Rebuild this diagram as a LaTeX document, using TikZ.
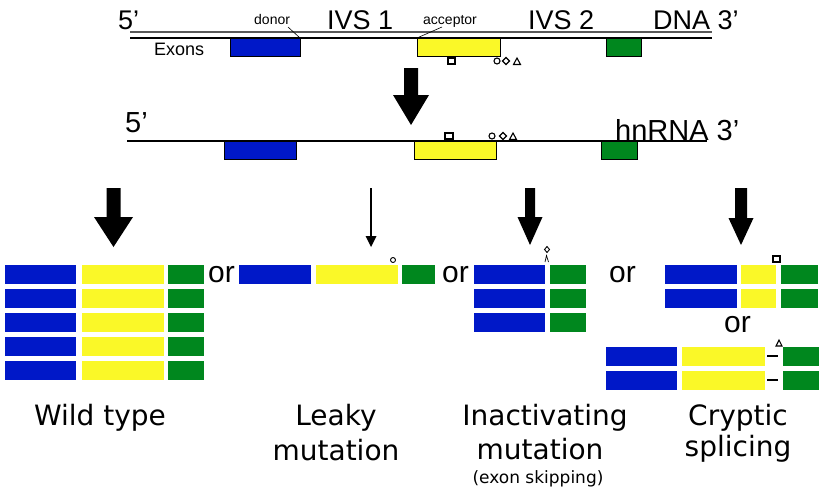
\documentclass[tikz,border=0pt]{standalone}
\usepackage{fontspec}
\setmainfont{Liberation Sans}
\newfontfamily\dvs{DejaVu Sans}
\definecolor{exblue}{RGB}{0,24,200}
\definecolor{exyellow}{RGB}{250,248,40}
\definecolor{exgreen}{RGB}{0,135,30}
% block arrow: xcenter, shaft top, head top, tip, shaft half width, head half width
\newcommand\blkarrow[6]{%
  \fill[black] ({#1-#5},#2) -- ({#1+#5},#2) -- ({#1+#5},#3) -- ({#1+#6},#3)
    -- (#1,#4) -- ({#1-#6},#3) -- ({#1-#5},#3) -- cycle;}
% exon bar: colour, x1, x2, top y (height 19)
\newcommand\exbar[4]{\fill[#1] (#2,#4) rectangle (#3,{#4+19});}
\begin{document}
\begin{tikzpicture}[x=1pt,y=-1pt,
  lbl/.style={inner sep=0pt, anchor=base west},
  lblc/.style={inner sep=0pt, anchor=base},
  dnafont/.style={font=\fontsize{27}{30}\selectfont},
  rnafont/.style={font=\fontsize{29}{32}\selectfont},
  smallfont/.style={font=\fontsize{14}{16}\selectfont},
  exonsfont/.style={font=\fontsize{18}{20}\selectfont},
  orfont/.style={font=\fontsize{30}{32}\selectfont},
  capfont/.style={font=\dvs\fontsize{28}{32}\selectfont},
  subfont/.style={font=\dvs\fontsize{17}{20}\selectfont},
  exonbox/.style={draw=black, line width=0.8pt},
  sym/.style={draw=black, line width=1.1pt}]
\useasboundingbox (0,0) rectangle (832,488);

% ---------------- DNA row ----------------
\coordinate (dnaTopL) at (130,32);
\coordinate (dnaTopR) at (712,32);
\coordinate (dnaBotL) at (130,38);
\coordinate (dnaBotR) at (712,38);
\draw[line width=1.3pt, black!65] (dnaTopL) -- (dnaTopR);
\draw[line width=1.5pt] (dnaBotL) -- (dnaBotR);
\node[lbl, dnafont] (p5a) at (118,29) {5’};
\node[lbl, smallfont] (donor) at (254,24) {donor};
\node[lbl, dnafont] (ivs1) at (327,29) {IVS 1};
\node[lbl, smallfont] (acceptor) at (423,24) {acceptor};
\node[lbl, dnafont] (ivs2) at (528,29) {IVS 2};
\node[lbl, dnafont] (dna3) at (653,29) {DNA 3’};
\node[lbl, exonsfont] (exons) at (154,55) {Exons};
\fill[exblue] (230,38) rectangle (300,56);
\draw[exonbox] (230,38) rectangle (300,56);
\fill[exyellow] (417,38) rectangle (500,56);
\draw[exonbox] (417,38) rectangle (500,56);
\fill[exgreen] (606,38) rectangle (641,56);
\draw[exonbox] (606,38) rectangle (641,56);
\coordinate (donorEnd) at (300,38);
\coordinate (accEnd) at (417,38);
\draw[line width=0.6pt] (288,27) -- (donorEnd);
\draw[line width=0.6pt] (442,27) -- (accEnd);
% symbols
\draw[sym] (448,58) rectangle (455,64);
\draw[sym] (497,61) circle (3);
\draw[sym] (506,57.5) -- (509.5,61) -- (506,64.5) -- (502.5,61) -- cycle;
\draw[sym] (513.5,64.5) -- (520.5,64.5) -- (517,58) -- cycle;

% arrow DNA -> hnRNA
\blkarrow{411}{68}{95}{125}{7}{18}

% ---------------- hnRNA row ----------------
\coordinate (rnaL) at (127,141);
\coordinate (rnaR) at (707,141);
\draw[line width=1.5pt] (rnaL) -- (rnaR);
\node[lbl, rnafont] (p5b) at (125,132) {5’};
\node[lbl, rnafont] (rna3) at (615,140) {hnRNA 3’};
\fill[exblue] (224,141) rectangle (296,159);
\draw[exonbox] (224,141) rectangle (296,159);
\fill[exyellow] (414,141) rectangle (496,159);
\draw[exonbox] (414,141) rectangle (496,159);
\fill[exgreen] (601,141) rectangle (637,159);
\draw[exonbox] (601,141) rectangle (637,159);
\draw[sym] (445,133) rectangle (453,139);
\draw[sym] (492,136) circle (3);
\draw[sym] (503,132.5) -- (506.5,136) -- (503,139.5) -- (499.5,136) -- cycle;
\draw[sym] (509.5,139.5) -- (516.5,139.5) -- (513,133) -- cycle;

% ---------------- arrows to outcomes ----------------
\blkarrow{113.5}{188}{217}{247}{7}{19.5}
\coordinate (leakyTop) at (371,188);
\coordinate (leakyTip) at (371,247);
\draw[line width=1.6pt] (leakyTop) -- (371,238);
\fill[black] (365.5,236) -- (376.5,236) -- (leakyTip) -- cycle;
\blkarrow{530}{188}{217}{245}{5}{12.5}
\blkarrow{741}{188}{218}{245}{6}{12.5}

% ---------------- wild type ----------------
\foreach \yy in {265,289,313,337,361}{
  \exbar{exblue}{5}{76}{\yy}
  \exbar{exyellow}{82}{164}{\yy}
  \exbar{exgreen}{168}{204}{\yy}
}
\node[lbl, orfont] (or1) at (208,282) {or};

% ---------------- leaky ----------------
\exbar{exblue}{239}{311}{265}
\exbar{exyellow}{316}{398}{265}
\exbar{exgreen}{402}{435}{265}
\draw[line width=0.9pt] (393,260) circle (2.5);
\node[lbl, orfont] (or2) at (442,282) {or};

% ---------------- inactivating ----------------
\foreach \yy in {265,289,313}{
  \exbar{exblue}{474}{545}{\yy}
  \exbar{exgreen}{550}{586}{\yy}
}
\draw[line width=0.9pt] (547,246.5) -- (549.5,249.5) -- (547,252.5) -- (544.5,249.5) -- cycle;
\draw[line width=0.7pt] (545,262) -- (546.5,255.5) -- (548.5,262);
\node[lbl, orfont] (or3) at (609,282) {or};

% ---------------- cryptic ----------------
\foreach \yy in {265,289}{
  \exbar{exblue}{665}{737}{\yy}
  \exbar{exyellow}{741}{776}{\yy}
  \exbar{exgreen}{781}{818}{\yy}
}
\draw[sym] (773,256) rectangle (780,262);
\node[lbl, orfont] (or4) at (724,332) {or};
\foreach \yy in {347,371}{
  \exbar{exblue}{606}{677}{\yy}
  \exbar{exyellow}{682}{765}{\yy}
  \exbar{exgreen}{783}{819}{\yy}
  \draw[line width=1.3pt] (767,{\yy+9}) -- (778,{\yy+9});
}
\draw[line width=1.1pt] (776,346) -- (782,346) -- (779,340) -- cycle;

% ---------------- captions ----------------
\node[lblc, capfont] (wt) at (100,425) {Wild type};
\node[lblc, capfont] (lk1) at (336,425) {Leaky};
\node[lblc, capfont] (lk2) at (336,460) {mutation};
\node[lblc, capfont] (in1) at (545,425) {Inactivating};
\node[lblc, capfont] (in2) at (540,459) {mutation};
\node[lblc, subfont] (in3) at (538,483) {(exon skipping)};
\node[lblc, capfont] (cr1) at (738,425) {Cryptic};
\node[lblc, capfont] (cr2) at (738,456) {splicing};
\end{tikzpicture}
\end{document}
